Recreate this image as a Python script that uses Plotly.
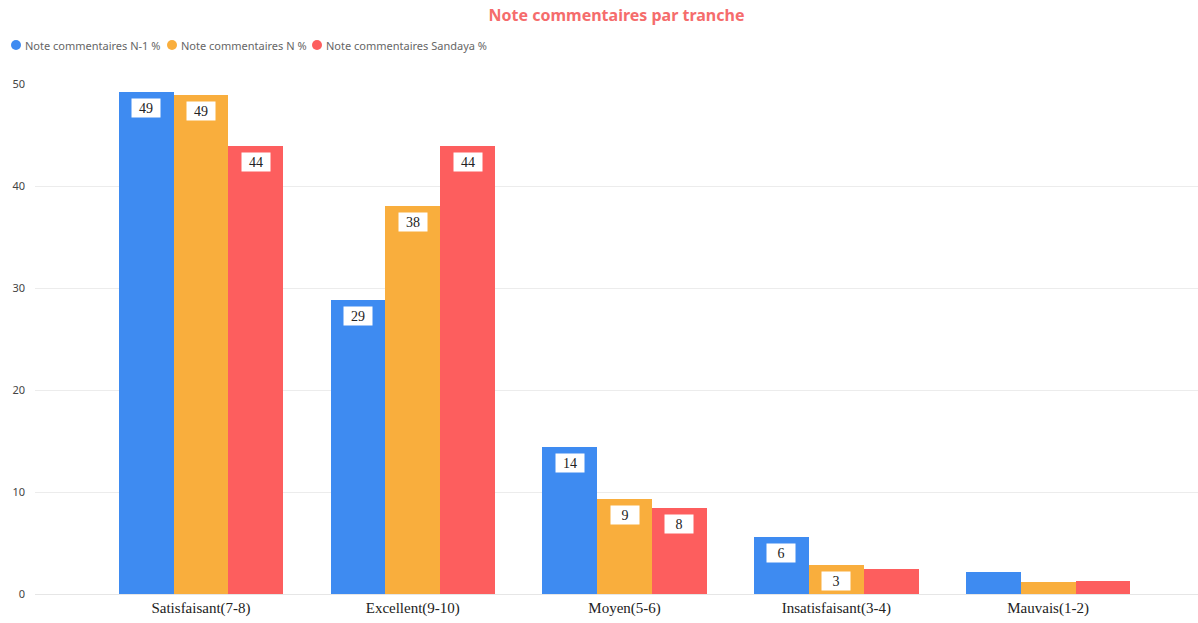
import plotly.graph_objects as go

categories = ["Satisfaisant(7-8)", "Excellent(9-10)", "Moyen(5-6)", "Insatisfaisant(3-4)", "Mauvais(1-2)"]
series_names = ["Note commentaires N-1 %", "Note commentaires N %", "Note commentaires Sandaya %"]
values_n1 = [49.2, 28.8, 14.4, 5.6, 2.2]
values_n = [48.9, 38.0, 9.3, 2.8, 1.2]
values_sandaya = [43.9, 43.9, 8.4, 2.5, 1.3]
labels_n1 = ["49", "29", "14", "6", None]
labels_n = ["49", "38", "9", "3", None]
labels_sandaya = ["44", "44", "8", None, None]
y_ticks = [0, 10, 20, 30, 40, 50]

colors = ["#3E8BF1", "#F9AE3D", "#FD5E5E"]
all_values = [values_n1, values_n, values_sandaya]
all_labels = [labels_n1, labels_n, labels_sandaya]

W = 0.259
offsets = [-1.5 * W, -0.5 * W, 0.5 * W]
xs = list(range(len(categories)))

# plot area geometry (for legend placement in paper coords)
L, R, T, B = 35, 0, 84, 29
PW, PH = 1198 - L - R, 623 - T - B

fig = go.Figure()
annotations = []
shapes = []
for name, vals, labs, col, off in zip(series_names, all_values, all_labels, colors, offsets):
    fig.add_trace(go.Bar(
        x=xs, y=vals, name=name, marker=dict(color=col, line=dict(width=0)),
        width=W, offset=off, showlegend=False, hoverinfo="y+name",
    ))
    for xi, v, lab in zip(xs, vals, labs):
        if lab is None:
            continue
        annotations.append(dict(
            x=xi + off + W / 2, y=v, xref="x", yref="y", text=lab, showarrow=False,
            yanchor="middle", yshift=-16, bgcolor="white", borderpad=1,
            width=26, height=16, align="center", valign="middle",
            font=dict(family="Liberation Serif", size=14, color="#222"),
        ))

# custom legend (tight circle markers like the original)
legend_marker_px = [16, 172, 317]
legend_y_px = 45
for name, col, mx in zip(series_names, colors, legend_marker_px):
    cx = (mx - L) / PW
    cy = 1 + (T - legend_y_px) / PH
    shapes.append(dict(
        type="circle", xref="paper", yref="paper", xsizemode="pixel", ysizemode="pixel",
        xanchor=cx, yanchor=cy, x0=-5, x1=5, y0=-5, y1=5,
        fillcolor=col, line=dict(width=0),
    ))
    annotations.append(dict(
        x=(mx + 7 - L) / PW, y=cy, xref="paper", yref="paper", text=name,
        showarrow=False, xanchor="left", yanchor="middle",
        font=dict(family="Noto Sans", size=11, color="#666"),
    ))

fig.update_layout(
    width=1198, height=623,
    margin=dict(l=L, r=R, t=T, b=B),
    paper_bgcolor="white", plot_bgcolor="white",
    title=dict(text="<b>Note commentaires par tranche</b>", x=0.5, xref="paper", xanchor="center",
               y=0.985, yanchor="top",
               font=dict(family="Noto Sans", size=16, color="#F56C6C")),
    showlegend=False,
    bargap=0, barmode="overlay",
    xaxis=dict(range=[-0.784, 4.708], tickvals=xs, ticktext=categories,
               showgrid=False, showline=True, linecolor="#e6e6e6", linewidth=1,
               ticks="", zeroline=False,
               tickfont=dict(family="Liberation Serif", size=15, color="#222")),
    yaxis=dict(range=[0, 50], tickvals=y_ticks, showgrid=True, gridcolor="#ececec",
               zeroline=False, ticks="", showline=False, ticklabelstandoff=9,
               tickfont=dict(family="Noto Sans", size=11, color="#444")),
    annotations=annotations,
    shapes=shapes,
)

fig.write_html("out.html")
